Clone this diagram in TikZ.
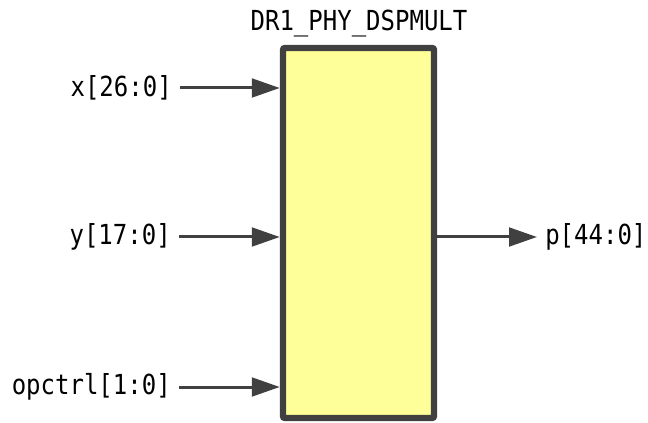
\documentclass[tikz,border=0pt]{standalone}
\usepackage{graphicx}
\usepackage{fontspec}
\setmonofont{DejaVu Sans Mono}
\usetikzlibrary{arrows.meta}
\definecolor{edge}{HTML}{404040}
\definecolor{blockfill}{HTML}{FFFF99}
\newcommand{\tallt}[1]{\scalebox{1}[1.15]{#1}}
\tikzset{
  px/.style={x=0.75pt,y=-0.75pt},
  lbl/.style={font=\ttfamily\fontsize{18pt}{20pt}\selectfont, inner sep=0pt, text=black},
  wire/.style={draw=edge, line width=2.25pt, -{Triangle[length=21pt,width=14pt]}},
  blockbox/.style={draw=edge, fill=blockfill, line width=4.8pt, rounded corners=1.5pt,
    minimum width=113.25pt, minimum height=277.5pt, inner sep=0pt}
}
\begin{document}
\begin{tikzpicture}[px]
\useasboundingbox (0,0) rectangle (648,423);
\node[blockbox] (blk) at (358.5,233) {};
\node[lbl] (title) at (359,24) {\tallt{DR1\_PHY\_DSPMULT}};
\node[lbl, anchor=east] (xl) at (172,88) {\tallt{x[26:0]}};
\node[lbl, anchor=east] (yl) at (171,237) {\tallt{y[17:0]}};
\node[lbl, anchor=east] (ol) at (171,387) {\tallt{opctrl[1:0]}};
\node[lbl, anchor=west] (pl) at (545,237) {\tallt{p[44:0]}};
\draw[wire, shorten <=6pt] (xl.east) -- (xl.east -| blk.west);
\draw[wire, shorten <=6pt] (yl.east) -- (yl.east -| blk.west);
\draw[wire, shorten <=6pt] (ol.east) -- (ol.east -| blk.west);
\draw[wire, shorten >=6pt] (blk.east |- pl.west) -- (pl.west);
\end{tikzpicture}
\end{document}
